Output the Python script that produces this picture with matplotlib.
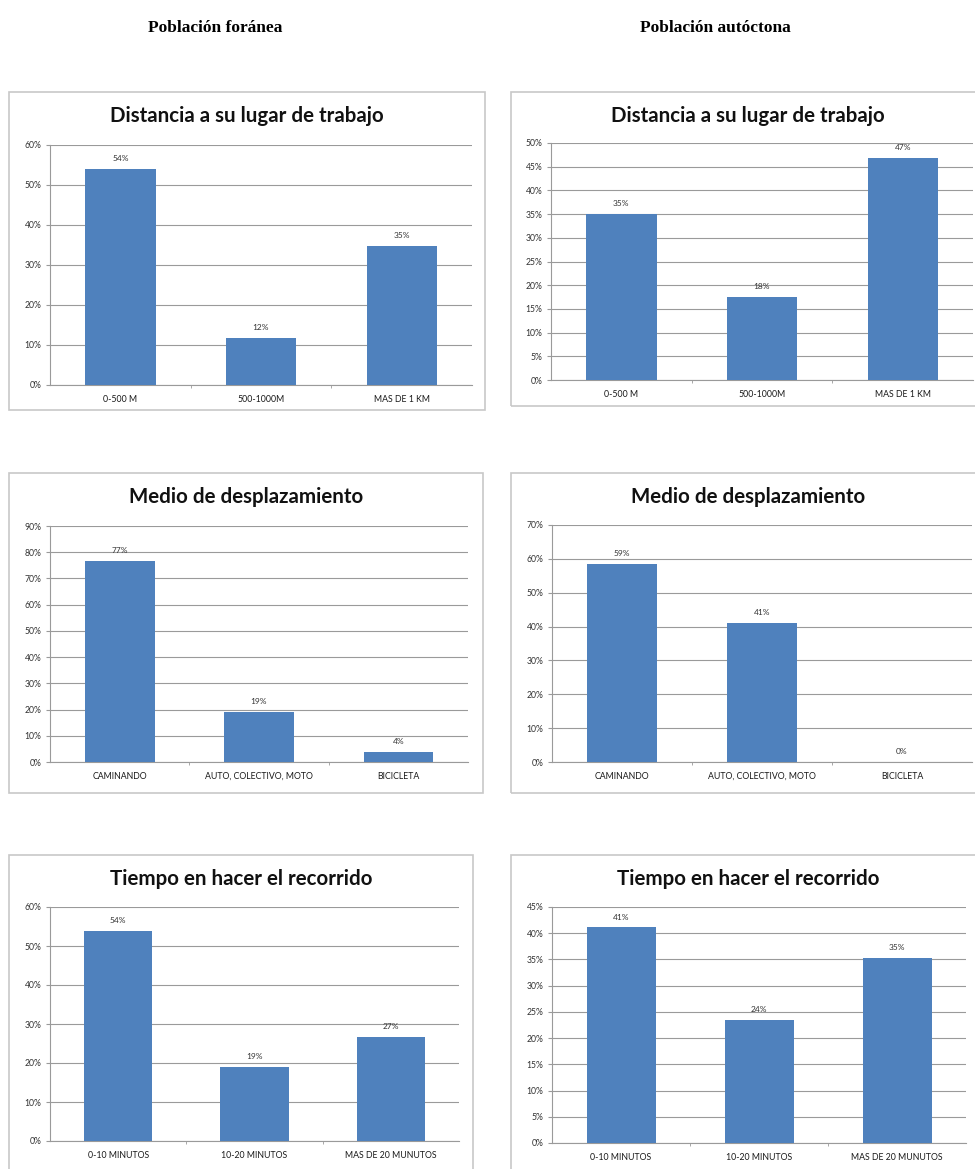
import matplotlib
matplotlib.use("Agg")
import matplotlib.pyplot as plt
from matplotlib.patches import Rectangle
from matplotlib.ticker import MultipleLocator, FuncFormatter

# --- data ------------------------------------------------------------------
col_headers = ["Población foránea", "Población autóctona"]

titles = ["Distancia a su lugar de trabajo",
          "Medio de desplazamiento",
          "Tiempo en hacer el recorrido"]

cats_distancia = ["0-500 M", "500-1000M", "MAS DE 1 KM"]
cats_medio = ["CAMINANDO", "AUTO, COLECTIVO, MOTO", "BICICLETA"]
cats_tiempo = ["0-10 MINUTOS", "10-20 MINUTOS", "MAS DE 20 MUNUTOS"]

foranea_distancia = [53.9, 11.7, 34.7]
foranea_medio = [76.8, 19.0, 3.7]
foranea_tiempo = [53.9, 19.1, 26.7]

autoctona_distancia = [35.0, 17.6, 46.8]
autoctona_medio = [58.5, 41.1, 0.0]
autoctona_tiempo = [41.1, 23.5, 35.2]

labels_foranea_distancia = ["54%", "12%", "35%"]
labels_foranea_medio = ["77%", "19%", "4%"]
labels_foranea_tiempo = ["54%", "19%", "27%"]
labels_autoctona_distancia = ["35%", "18%", "47%"]
labels_autoctona_medio = ["59%", "41%", "0%"]
labels_autoctona_tiempo = ["41%", "24%", "35%"]

W, H = 975, 1169
BAR = "#4F81BD"
GRID = "#9A9A9A"
SANS = "Lato"

fig = plt.figure(figsize=(W / 100, H / 100), dpi=100)
fig.patch.set_facecolor("white")


def px_axes(l, t, r, b):
    return fig.add_axes([l / W, 1 - b / H, (r - l) / W, (b - t) / H])


def box(l, t, r, b):
    fig.patches.append(Rectangle((l / W, 1 - b / H), (r - l) / W, (b - t) / H,
                                 transform=fig.transFigure, fill=False,
                                 edgecolor="#C8C8C8", linewidth=1.2))


def bar_chart(axrect, boxrect, title, cats, vals, labels, ymax, step):
    l, t, r, b = boxrect
    box(l, t, r, b)
    ax = px_axes(*axrect)
    x = range(len(cats))
    ax.bar(x, vals, width=0.5, color=BAR, zorder=3)
    for xi, v, lab in zip(x, vals, labels):
        ax.annotate(lab, (xi, v), xytext=(0, 5), textcoords="offset points",
                    ha="center", va="bottom", fontsize=6, color="#333333",
                    family=SANS)
    ax.set_xlim(-0.5, len(cats) - 0.5)
    ax.set_ylim(0, ymax)
    ax.yaxis.set_major_locator(MultipleLocator(step))
    ax.yaxis.set_major_formatter(FuncFormatter(lambda v, p: f"{v:.0f}%"))
    ax.grid(axis="y", color=GRID, linewidth=0.8, zorder=0)
    ax.set_xticks(list(x))
    ax.set_xticklabels(cats)
    # small separators between categories, like Excel
    ax.set_xticks([0.5, 1.5], minor=True)
    ax.tick_params(axis="x", which="major", length=0, pad=7,
                   labelsize=6.3, labelcolor="#1a1a1a")
    ax.tick_params(axis="x", which="minor", length=2.5, color=GRID)
    ax.tick_params(axis="y", length=3, color=GRID, pad=3,
                   labelsize=6.2, labelcolor="#333333")
    for lab in ax.get_xticklabels() + ax.get_yticklabels():
        lab.set_family(SANS)
    for s in ["top", "right"]:
        ax.spines[s].set_visible(False)
    ax.spines["left"].set_color(GRID)
    ax.spines["bottom"].set_color(GRID)
    ax.set_facecolor("none")
    fig.text((l + r) / 2 / W, 1 - (t + 24) / H, title, ha="center",
             va="center", fontsize=14.8, fontweight="bold", family=SANS,
             color="#111111")
    return ax


# column headers
fig.text(215 / W, 1 - 28 / H, col_headers[0], ha="center", va="center",
         fontsize=12.5, fontweight="bold", family="Liberation Serif")
fig.text(715 / W, 1 - 28 / H, col_headers[1], ha="center", va="center",
         fontsize=12.5, fontweight="bold", family="Liberation Serif")

# left column: población foránea
bar_chart((50, 145, 472, 385), (9, 92, 485, 410), titles[0],
          cats_distancia, foranea_distancia, labels_foranea_distancia, 60, 10)
bar_chart((50, 526, 468, 762), (9, 473, 483, 793), titles[1],
          cats_medio, foranea_medio, labels_foranea_medio, 90, 10)
bar_chart((50, 907, 459, 1141), (9, 855, 473, 1180), titles[2],
          cats_tiempo, foranea_tiempo, labels_foranea_tiempo, 60, 10)

# right column: población autóctona
bar_chart((551, 143, 973, 380), (511, 92, 985, 406), titles[0],
          cats_distancia, autoctona_distancia, labels_autoctona_distancia, 50, 5)
bar_chart((552, 525, 972, 762), (511, 473, 985, 793), titles[1],
          cats_medio, autoctona_medio, labels_autoctona_medio, 70, 10)
bar_chart((552, 907, 966, 1143), (511, 855, 985, 1180), titles[2],
          cats_tiempo, autoctona_tiempo, labels_autoctona_tiempo, 45, 5)

fig.savefig("out.png", dpi=100, facecolor="white")
plt.close(fig)
